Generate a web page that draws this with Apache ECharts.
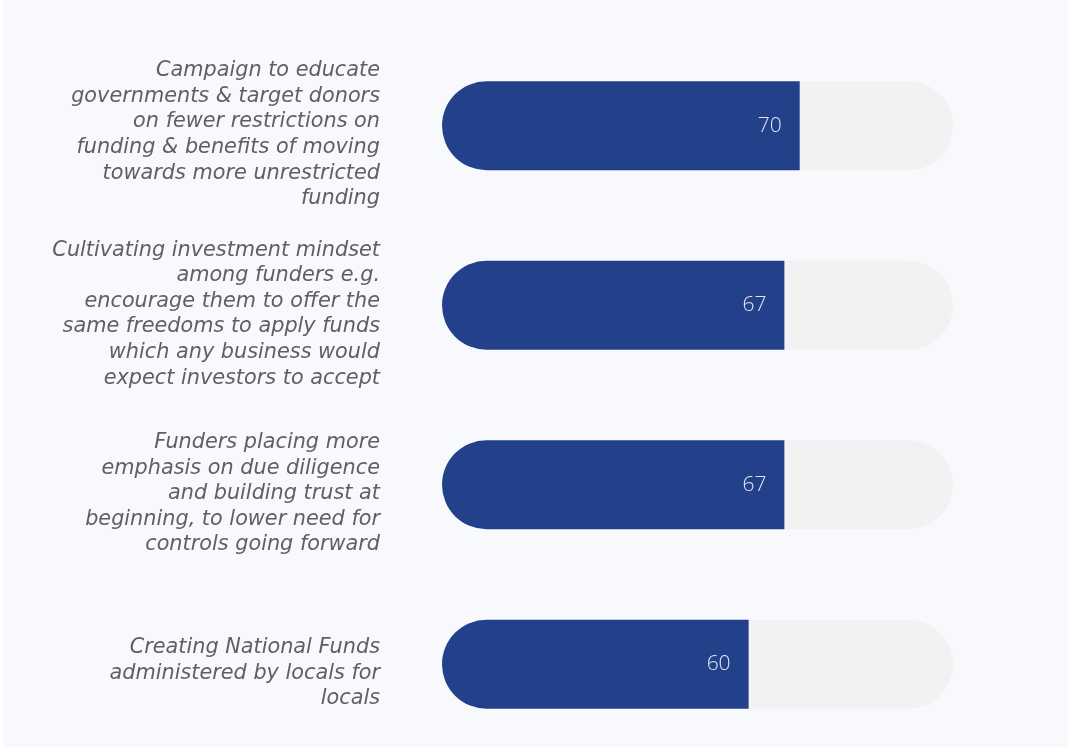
<!DOCTYPE html>
<html>
<head>
<meta charset="utf-8">
<script src="https://cdn.jsdelivr.net/npm/echarts@6/dist/echarts.min.js"></script>
<style>
html,body{margin:0;padding:0;background:#ffffff;}
#chart{position:absolute;left:3px;top:0;width:1065px;height:747px;background:#f8f9fd;}
</style>
</head>
<body>
<div id="chart"></div>
<script>
const categories = [
  "Campaign to educate\ngovernments & target donors\non fewer restrictions on\nfunding & benefits of moving\ntowards more unrestricted\nfunding",
  "Cultivating investment mindset\namong funders e.g.\nencourage them to offer the\nsame freedoms to apply funds\nwhich any business would\nexpect investors to accept",
  "Funders placing more\nemphasis on due diligence\nand building trust at\nbeginning, to lower need for\ncontrols going forward",
  "Creating National Funds\nadministered by locals for\nlocals"
];
const values = [70, 67, 67, 60];
const totals = [100, 100, 100, 100];

const chart = echarts.init(document.getElementById('chart'), null, {renderer: 'canvas'});
chart.setOption({
  backgroundColor: '#f8f9fd',
  animation: false,
  grid: [
    {left: 439, width: 511, top: 36, height: 718, containLabel: false, outerBoundsMode: 'none'},
    {left: 439, width: 511, top: 45, height: 718, containLabel: false, outerBoundsMode: 'none'}
  ],
  xAxis: [
    {type: 'value', min: 0, max: 100, show: false, gridIndex: 0},
    {type: 'value', min: 0, max: 100, show: false, gridIndex: 1}
  ],
  yAxis: [
    {
      type: 'category', data: categories, inverse: true, gridIndex: 0,
      axisLine: {show: false}, axisTick: {show: false}, splitLine: {show: false},
      axisLabel: {show: false}
    },
    {
      type: 'category', data: categories, inverse: true, gridIndex: 1,
      axisLine: {show: false}, axisTick: {show: false}, splitLine: {show: false},
      axisLabel: {
        interval: 0, hideOverlap: false, showMinLabel: true, showMaxLabel: true,
        margin: 62, align: 'right', color: '#606060', fontStyle: 'italic',
        fontFamily: 'DejaVu Sans', fontWeight: 'normal', fontSize: 20.8, lineHeight: 25.6
      }
    }
  ],
  series: [
    {
      type: 'bar', data: totals, barWidth: 89, barGap: '-100%', silent: true,
      xAxisIndex: 0, yAxisIndex: 0,
      itemStyle: {color: '#f2f2f2', borderRadius: 44.5}, z: 1
    },
    {
      type: 'bar', data: values, barWidth: 89, z: 2,
      xAxisIndex: 0, yAxisIndex: 0,
      itemStyle: {color: '#22418a', borderRadius: [44.5, 0, 0, 44.5]},
      label: {
        show: true, position: 'insideRight', distance: 18,
        color: '#e3e7f0', fontFamily: 'Open Sans', fontWeight: 300, fontSize: 21
      }
    }
  ]
});
</script>
</body>
</html>
